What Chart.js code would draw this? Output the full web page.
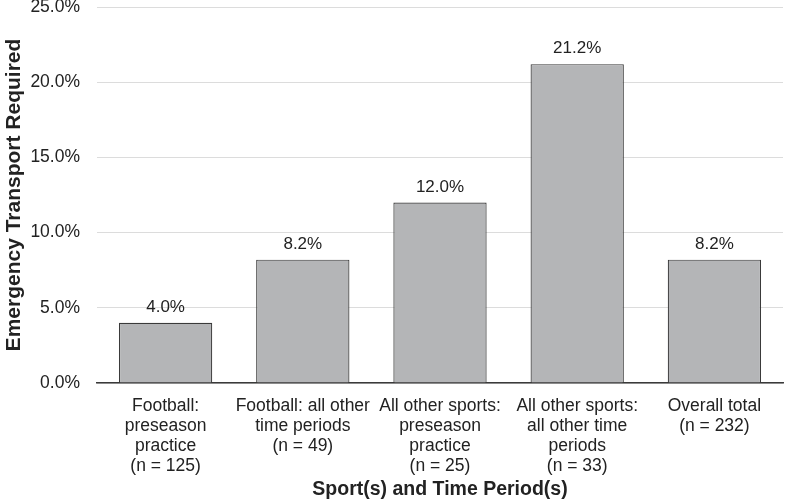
<!DOCTYPE html>
<html>
<head>
<meta charset="utf-8">
<script src="https://cdn.jsdelivr.net/npm/chart.js@4.4.1/dist/chart.umd.min.js"></script>
<style>
  html, body { margin: 0; padding: 0; background: #ffffff; }
  #wrap { width: 787px; height: 502px; }
</style>
</head>
<body>
<div id="wrap"><canvas id="chart" width="787" height="502"></canvas></div>
<script>
// categories (multi-line tick labels)
const categories = [
  ["Football:", "preseason", "practice", "(n = 125)"],
  ["Football: all other", "time periods", "(n = 49)"],
  ["All other sports:", "preseason", "practice", "(n = 25)"],
  ["All other sports:", "all other time", "periods", "(n = 33)"],
  ["Overall total", "(n = 232)"],
];
// percent of cases needing emergency transport
const transportPct = [4.0, 8.2, 12.0, 21.2, 8.2];
const yTicks = [0, 5, 10, 15, 20, 25];

const FONT = "'Liberation Sans', Arial, sans-serif";
Chart.defaults.font.family = FONT;
Chart.defaults.color = "#222";

// value labels above each bar
const barLabels = {
  id: "barLabels",
  afterDatasetsDraw(chart) {
    const ctx = chart.ctx;
    const meta = chart.getDatasetMeta(0);
    ctx.save();
    ctx.font = "17px " + FONT;
    ctx.fillStyle = "#222";
    ctx.textAlign = "center";
    ctx.textBaseline = "bottom";
    meta.data.forEach((bar, i) => {
      ctx.fillText(transportPct[i].toFixed(1) + "%", bar.x, bar.y - 7);
    });
    ctx.restore();
  },
};

new Chart(document.getElementById("chart"), {
  type: "bar",
  data: {
    labels: categories,
    datasets: [{
      data: transportPct,
      backgroundColor: "#b4b5b7",
      borderColor: "#3a3a3a",
      borderWidth: 1.2,
      barPercentage: 0.68,
      categoryPercentage: 1,
    }],
  },
  options: {
    responsive: false,
    animation: false,
    layout: { padding: { top: 7, right: 4, bottom: 0, left: 0 } },
    plugins: {
      legend: { display: false },
      tooltip: { enabled: false },
    },
    scales: {
      x: {
        grid: { display: false },
        border: { display: true, color: "#3a3a3a", width: 1.5 },
        ticks: {
          color: "#222",
          padding: 5,
          maxRotation: 0,
          autoSkip: false,
          font: { size: 17.5, lineHeight: "20px" },
        },
        title: {
          display: true,
          text: "Sport(s) and Time Period(s)",
          color: "#222",
          font: { size: 19.5, weight: "bold" },
          padding: { top: 2, bottom: 1 },
        },
        afterFit(scale) { scale.height = 119; },
      },
      y: {
        min: 0,
        max: 25,
        afterBuildTicks(scale) {
          scale.ticks = yTicks.map((v) => ({ value: v }));
        },
        grid: {
          color: "#dcdcdc",
          lineWidth: 1,
          drawTicks: false,
        },
        border: { display: false },
        ticks: {
          color: "#222",
          padding: 17,
          font: { size: 17.5 },
          callback: (v) => v.toFixed(1) + "%",
        },
        title: {
          display: true,
          text: "Emergency Transport Required",
          color: "#222",
          font: { size: 21, weight: "bold" },
          padding: { top: 2, bottom: 0 },
        },
        afterFit(scale) {
          scale.width = 97;
          scale.paddingTop = 0;
          scale.paddingBottom = 0;
        },
      },
    },
  },
  plugins: [barLabels],
});
</script>
</body>
</html>
